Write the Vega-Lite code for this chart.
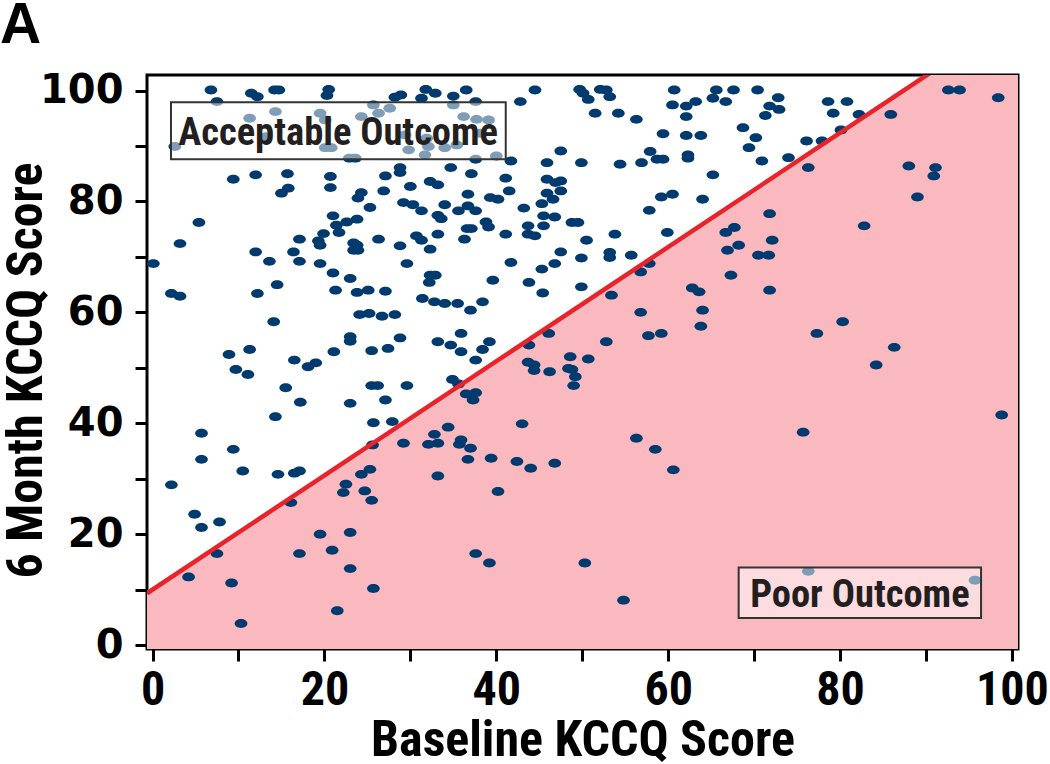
{
"$schema":"https://vega.github.io/schema/vega-lite/v6.json",
"width":871,"height":574,
"autosize":{"type":"none"},
"padding":{"left":147,"top":75,"right":32,"bottom":115},
"background":"white",
"config":{"view":{"stroke":"black","strokeWidth":3}},
"title":{"text":"A","anchor":"start","frame":"group","dx":-147,"dy":57,"offset":28,"fontSize":57,"font":"Liberation Sans, Arial, sans-serif","fontWeight":"bold","color":"black","baseline":"alphabetic"},
"datasets":{
"boundary":[{"x":-0.64,"y":9.34},{"x":100.7,"y":113.7}],
"boxes":[{"x":2.15,"x2":41.1,"y":97.9,"y2":87.6,"cx":21.6,"cy":92.75,"label":"Acceptable Outcome"},{"x":68.2,"x2":96.4,"y":14.0,"y2":4.9,"cx":82.3,"cy":9.45,"label":"Poor Outcome"}],
"pts":[
{"x":6.8,"y":100.1},{"x":7.5,"y":98.0},{"x":11.5,"y":99.5},{"x":12.2,"y":98.9},{"x":14.2,"y":100.1},{"x":14.7,"y":100.1},{"x":20.5,"y":100.2},{"x":20.3,"y":99.1},{"x":11.3,"y":95.0},{"x":14.3,"y":96.2},{"x":19.5,"y":95.9},{"x":20.1,"y":94.7},{"x":13.2,"y":91.7},{"x":20.1,"y":89.7},{"x":20.8,"y":89.7},{"x":2.6,"y":89.9},{"x":25.7,"y":97.4},{"x":26.3,"y":95.9},{"x":27.6,"y":96.8},{"x":22.9,"y":87.8},{"x":23.6,"y":87.8},{"x":29.8,"y":89.3},{"x":31.7,"y":88.4},{"x":32.1,"y":89.9},{"x":31.9,"y":91.4},{"x":24.3,"y":95.3},{"x":29.4,"y":92.0},{"x":28.2,"y":98.8},{"x":28.9,"y":99.2},{"x":31.3,"y":98.6},{"x":31.8,"y":100.2},{"x":32.9,"y":99.5},
{"x":9.4,"y":84.0},{"x":12.0,"y":84.8},{"x":15.7,"y":85.0},{"x":15.8,"y":82.4},{"x":15.0,"y":81.5},{"x":20.7,"y":84.5},{"x":20.7,"y":82.5},{"x":28.8,"y":86.1},{"x":28.8,"y":85.2},{"x":27.1,"y":84.6},{"x":26.9,"y":81.9},{"x":30.0,"y":82.7},{"x":32.3,"y":83.6},{"x":33.2,"y":83.0},{"x":24.3,"y":81.6},{"x":23.9,"y":80.6},{"x":25.3,"y":78.9},{"x":29.2,"y":79.8},{"x":30.3,"y":79.4},{"x":31.3,"y":78.3},{"x":33.2,"y":77.5},{"x":21.0,"y":77.4},{"x":21.4,"y":75.7},{"x":22.6,"y":76.3},{"x":23.8,"y":76.8},{"x":21.7,"y":74.4},{"x":19.9,"y":74.2},{"x":5.4,"y":76.2},{"x":3.2,"y":72.4},{"x":17.1,"y":73.2},{"x":19.3,"y":72.9},{"x":19.5,"y":72.1},{"x":23.4,"y":72.5},{"x":23.8,"y":72.1},{"x":23.4,"y":71.2},{"x":23.9,"y":71.2},{"x":26.3,"y":73.2},{"x":28.8,"y":72.0},{"x":30.7,"y":73.8},{"x":31.3,"y":73.0},{"x":32.3,"y":71.4},{"x":33.2,"y":74.1},{"x":12.0,"y":70.9},{"x":16.4,"y":70.9},{"x":13.6,"y":69.2},{"x":17.1,"y":69.2},{"x":19.5,"y":68.8},{"x":0.1,"y":68.8},{"x":29.6,"y":68.8},
{"x":35.0,"y":99.0},{"x":36.5,"y":100.1},{"x":37.6,"y":98.0},{"x":44.5,"y":100.1},{"x":42.8,"y":98.0},{"x":49.7,"y":100.2},{"x":50.1,"y":99.5},{"x":50.7,"y":98.4},{"x":52.1,"y":100.2},{"x":52.8,"y":100.1},{"x":53.2,"y":98.9},{"x":51.5,"y":95.9},{"x":54.2,"y":95.9},{"x":56.3,"y":94.8},{"x":60.7,"y":100.1},{"x":60.5,"y":97.4},{"x":62.1,"y":97.2},{"x":63.2,"y":98.0},{"x":62.1,"y":95.3},{"x":65.6,"y":100.1},{"x":65.2,"y":98.6},{"x":59.4,"y":92.2},{"x":62.1,"y":91.9},{"x":63.8,"y":91.9},{"x":57.9,"y":89.0},{"x":58.7,"y":87.6},{"x":59.4,"y":87.6},{"x":62.3,"y":88.4},{"x":62.3,"y":87.8},{"x":65.2,"y":84.8},{"x":47.5,"y":89.1},{"x":49.9,"y":87.0},{"x":54.4,"y":86.7},{"x":56.9,"y":87.0},{"x":45.9,"y":87.0},{"x":41.7,"y":87.3},{"x":37.6,"y":87.6},{"x":35.0,"y":97.4},{"x":36.2,"y":95.3},{"x":37.7,"y":94.8},{"x":39.1,"y":94.7},{"x":38.1,"y":92.3},{"x":34.0,"y":89.7},{"x":35.4,"y":90.2},{"x":40.0,"y":88.2},
{"x":34.7,"y":86.1},{"x":37.1,"y":85.0},{"x":41.1,"y":84.2},{"x":45.9,"y":84.0},{"x":46.9,"y":83.4},{"x":47.5,"y":83.7},{"x":41.5,"y":81.9},{"x":36.7,"y":81.3},{"x":45.9,"y":81.5},{"x":47.5,"y":81.9},{"x":46.6,"y":80.4},{"x":39.3,"y":80.7},{"x":40.2,"y":80.4},{"x":45.3,"y":79.6},{"x":34.0,"y":79.4},{"x":36.7,"y":79.2},{"x":33.6,"y":76.9},{"x":35.6,"y":78.3},{"x":37.6,"y":78.3},{"x":43.2,"y":78.8},{"x":45.5,"y":77.4},{"x":46.8,"y":77.2},{"x":38.8,"y":76.3},{"x":39.1,"y":75.4},{"x":36.6,"y":75.1},{"x":37.1,"y":75.1},{"x":43.7,"y":75.6},{"x":45.5,"y":75.6},{"x":48.8,"y":76.2},{"x":49.5,"y":76.2},{"x":41.1,"y":74.1},{"x":43.7,"y":74.1},{"x":44.5,"y":73.8},{"x":36.3,"y":73.2},{"x":50.5,"y":73.0},{"x":53.8,"y":74.1},{"x":59.9,"y":74.4},{"x":59.2,"y":80.8},{"x":60.5,"y":81.3},{"x":64.0,"y":80.4},{"x":57.8,"y":78.4},{"x":47.5,"y":70.9},{"x":49.9,"y":69.8},{"x":53.2,"y":70.8},{"x":53.2,"y":69.9},{"x":55.7,"y":70.3},{"x":57.8,"y":68.8},{"x":41.7,"y":69.0},{"x":46.8,"y":68.8},{"x":45.3,"y":67.8},
{"x":67.6,"y":100.1},{"x":66.7,"y":98.0},{"x":70.4,"y":100.1},{"x":72.8,"y":98.7},{"x":71.8,"y":97.2},{"x":72.9,"y":96.6},{"x":71.3,"y":95.5},{"x":78.6,"y":98.0},{"x":80.8,"y":98.0},{"x":79.2,"y":95.9},{"x":82.2,"y":95.7},{"x":85.9,"y":95.7},{"x":68.7,"y":93.3},{"x":70.2,"y":91.5},{"x":69.4,"y":89.7},{"x":70.9,"y":87.3},{"x":74.0,"y":87.9},{"x":76.1,"y":90.9},{"x":77.9,"y":90.9},{"x":80.1,"y":92.9},{"x":76.3,"y":86.1},{"x":92.6,"y":100.1},{"x":93.9,"y":100.1},{"x":98.4,"y":98.7},{"x":88.0,"y":86.4},{"x":91.1,"y":86.1},{"x":90.9,"y":84.6},{"x":89.0,"y":80.8},{"x":71.8,"y":77.8},{"x":67.7,"y":75.3},{"x":66.7,"y":74.4},{"x":68.2,"y":72.1},{"x":66.9,"y":71.2},{"x":72.1,"y":73.0},{"x":70.5,"y":70.3},{"x":71.7,"y":70.3},{"x":82.8,"y":75.6},
{"x":21.0,"y":67.1},{"x":23.0,"y":66.1},{"x":14.5,"y":65.0},{"x":2.2,"y":63.4},{"x":3.2,"y":62.9},{"x":12.2,"y":63.4},{"x":21.3,"y":64.0},{"x":23.8,"y":63.6},{"x":25.1,"y":64.0},{"x":27.1,"y":63.8},{"x":32.3,"y":66.7},{"x":32.9,"y":66.7},{"x":32.2,"y":65.4},{"x":31.4,"y":62.5},{"x":32.8,"y":61.9},{"x":24.1,"y":59.6},{"x":25.2,"y":59.8},{"x":26.7,"y":59.3},{"x":28.2,"y":59.6},{"x":14.1,"y":58.3},{"x":23.0,"y":55.6},{"x":23.0,"y":54.8},{"x":28.8,"y":55.4},{"x":33.2,"y":54.7},{"x":8.9,"y":52.4},{"x":11.3,"y":53.3},{"x":9.7,"y":49.7},{"x":11.1,"y":48.8},{"x":16.5,"y":51.4},{"x":18.1,"y":50.2},{"x":19.0,"y":50.9},{"x":21.1,"y":52.9},{"x":25.5,"y":53.1},{"x":27.4,"y":53.5},{"x":15.5,"y":46.4},{"x":17.2,"y":43.8},{"x":23.0,"y":43.6},{"x":25.5,"y":46.8},{"x":26.2,"y":46.8},{"x":29.6,"y":46.8},{"x":27.1,"y":44.2},{"x":14.3,"y":41.2},{"x":25.7,"y":40.1},{"x":27.9,"y":40.3},{"x":5.7,"y":38.2},{"x":9.4,"y":35.3},{"x":25.6,"y":36.1},{"x":29.2,"y":36.4},{"x":32.1,"y":36.2},{"x":33.2,"y":36.4},{"x":32.8,"y":38.0},
{"x":56.8,"y":67.3},{"x":39.6,"y":65.8},{"x":43.8,"y":65.4},{"x":45.4,"y":63.5},{"x":49.9,"y":64.6},{"x":53.4,"y":63.1},{"x":34.0,"y":61.6},{"x":35.5,"y":61.6},{"x":37.0,"y":60.4},{"x":38.4,"y":61.9},{"x":62.8,"y":64.4},{"x":63.6,"y":63.7},{"x":64.0,"y":60.4},{"x":63.8,"y":57.5},{"x":56.8,"y":60.0},{"x":57.7,"y":55.8},{"x":59.2,"y":56.2},{"x":52.8,"y":54.7},{"x":35.9,"y":56.2},{"x":34.7,"y":54.1},{"x":35.9,"y":52.9},{"x":39.2,"y":54.7},{"x":38.4,"y":53.3},{"x":37.6,"y":51.4},{"x":46.1,"y":56.2},{"x":43.8,"y":54.1},{"x":43.7,"y":51.0},{"x":44.4,"y":50.5},{"x":44.4,"y":49.5},{"x":46.2,"y":49.3},{"x":48.6,"y":52.0},{"x":50.7,"y":51.6},{"x":48.4,"y":49.9},{"x":48.8,"y":49.7},{"x":49.2,"y":48.4},{"x":49.0,"y":46.8},{"x":34.9,"y":47.9},{"x":35.6,"y":47.1},{"x":36.5,"y":45.3},{"x":37.6,"y":45.5},{"x":37.3,"y":44.2},{"x":43.0,"y":39.9},{"x":34.4,"y":39.3},{"x":35.9,"y":37.0},{"x":35.7,"y":36.2},{"x":37.0,"y":35.5},{"x":56.3,"y":37.3},{"x":58.5,"y":35.3},
{"x":67.3,"y":66.7},{"x":71.8,"y":64.0},{"x":80.3,"y":58.3},{"x":77.3,"y":56.2},{"x":86.3,"y":53.7},{"x":84.2,"y":50.5},{"x":98.8,"y":41.5},{"x":75.7,"y":38.4},
{"x":5.7,"y":33.5},{"x":10.5,"y":31.4},{"x":2.2,"y":28.9},{"x":14.6,"y":30.8},{"x":16.5,"y":31.0},{"x":17.1,"y":31.4},{"x":4.9,"y":23.6},{"x":5.7,"y":21.2},{"x":7.8,"y":22.2},{"x":16.1,"y":25.7},{"x":33.2,"y":30.5},{"x":24.3,"y":30.8},{"x":25.3,"y":31.7},{"x":22.5,"y":29.0},{"x":22.2,"y":27.5},{"x":24.7,"y":27.8},{"x":25.5,"y":26.1},{"x":7.5,"y":16.5},{"x":4.2,"y":12.3},{"x":9.2,"y":11.2},{"x":10.3,"y":3.9},{"x":19.5,"y":20.0},{"x":23.0,"y":20.3},{"x":20.9,"y":17.1},{"x":17.1,"y":16.5},{"x":23.0,"y":13.8},{"x":25.7,"y":10.2},{"x":21.5,"y":6.2},
{"x":36.7,"y":33.5},{"x":39.4,"y":33.7},{"x":42.4,"y":33.1},{"x":44.0,"y":31.9},{"x":46.8,"y":32.8},{"x":40.2,"y":27.7},{"x":60.6,"y":31.6},{"x":37.6,"y":16.5},{"x":39.2,"y":14.8},{"x":50.3,"y":14.8},{"x":54.8,"y":8.1},
{"x":76.3,"y":13.3},{"x":95.7,"y":11.7}
]
},
"encoding":{
"x":{"field":"x","type":"quantitative","scale":{"domain":[-0.64,100.7],"nice":false,"zero":false},
"axis":{"title":"Baseline KCCQ Score","values":[0,10,20,30,40,50,60,70,80,90,100],"labelExpr":"datum.value % 20 === 0 ? datum.label : ''","domain":false,"grid":false,"tickSize":12,"tickWidth":3,"tickColor":"black","labelFont":"Roboto Condensed, Liberation Sans Narrow, Roboto, sans-serif","labelFontWeight":"bold","labelFontSize":48,"labelColor":"black","labelPadding":5,"labelFlush":false,"labelOverlap":false,"titleFont":"Roboto Condensed, Liberation Sans Narrow, Roboto, sans-serif","titleFontSize":50,"titleFontWeight":"bold","titleColor":"black","titleY":106,"titleBaseline":"alphabetic"}},
"y":{"field":"y","type":"quantitative","scale":{"domain":[-0.7,102.8],"nice":false,"zero":false},
"axis":{"title":"6 Month KCCQ Score","values":[0,10,20,30,40,50,60,70,80,90,100],"labelExpr":"datum.value % 20 === 0 ? datum.label : ''","domain":false,"grid":false,"tickSize":12,"tickWidth":3,"tickColor":"black","labelFont":"DejaVu Sans","labelFontWeight":"bold","labelFontSize":40,"labelColor":"black","labelPadding":12,"labelFlush":false,"labelOverlap":false,"titleFont":"Roboto Condensed, Liberation Sans Narrow, Roboto, sans-serif","titleFontSize":50,"titleFontWeight":"bold","titleColor":"black","titleAngle":270,"titleX":-106,"titleY":295,"titleBaseline":"alphabetic"}}
},
"layer":[
{"data":{"name":"boundary"},"mark":{"type":"area","color":"#F9B9BE","clip":true},"encoding":{"y2":{"datum":-0.7}}},
{"data":{"name":"pts"},"mark":{"type":"point","shape":"M -1 0 A 1 0.7 0 1 1 1 0 A 1 0.7 0 1 1 -1 0 Z","filled":true,"size":160,"color":"#013A6E","opacity":1}},
{"data":{"name":"boundary"},"mark":{"type":"line","color":"#E8232B","strokeWidth":4.5,"clip":true}},
{"data":{"name":"boxes"},"mark":{"type":"rect","fill":"white","fillOpacity":0.5,"stroke":"#333333","strokeWidth":2},"encoding":{"x2":{"field":"x2"},"y2":{"field":"y2"}}},
{"data":{"name":"boxes"},"mark":{"type":"text","font":"Roboto Condensed, Liberation Sans Narrow, Roboto, sans-serif","fontWeight":"bold","fontSize":38.5,"color":"#231F20","baseline":"middle","align":"center","dy":2},"encoding":{"x":{"field":"cx","type":"quantitative"},"y":{"field":"cy","type":"quantitative"},"text":{"field":"label"}}}
]
}
